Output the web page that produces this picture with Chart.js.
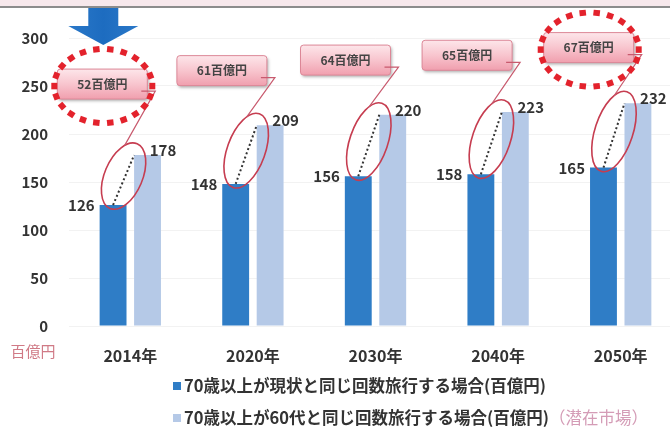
<!DOCTYPE html>
<html lang="ja">
<head>
<meta charset="utf-8">
<title>高齢者の旅行消費額</title>
<script src="https://cdn.jsdelivr.net/npm/chart.js@4.4.1/dist/chart.umd.min.js"></script>
<style>
  html, body { margin: 0; padding: 0; background: #fff; overflow: hidden; }
  #wrap { position: relative; width: 700px; height: 428px; }
  #topband { position: absolute; left: 0; top: 0; width: 700px; height: 6px; background: #f7e8ec; border-bottom: 2px solid #8c8c8c; }
  #chart { position: absolute; left: 0; top: 0; }
  .legend { position: absolute; left: 173px; font: bold 16.5px "Noto Sans CJK JP", sans-serif; color: #333; white-space: nowrap; line-height: 20px; }
  .legend i { display: inline-block; width: 8px; height: 8px; margin-right: 3px; vertical-align: 2px; }
  .legend .note { font-weight: normal; color: #d49cb6; }
</style>
</head>
<body>
<div id="wrap">
  <div id="topband"></div>
  <canvas id="chart" width="700" height="428"></canvas>
  <div class="legend" style="top:375px"><i style="background:#2f7dc6"></i><span id="lg0"></span></div>
  <div class="legend" style="top:407px"><i style="background:#b5c9e7"></i><span id="lg1"></span><span class="note" id="lgNote"></span></div>
</div>
<script>
const years = ['2014年', '2020年', '2030年', '2040年', '2050年'];
const sameAsNow = [126, 148, 156, 158, 165];   // 70歳以上が現状と同じ回数
const sameAs60s = [178, 209, 220, 223, 232];   // 70歳以上が60代と同じ回数
const yTicks = [0, 50, 100, 150, 200, 250, 300];
const unitLabel = '百億円';
const seriesNames = [
  '70歳以上が現状と同じ回数旅行する場合(百億円)',
  '70歳以上が60代と同じ回数旅行する場合(百億円)'
];
const potentialNote = '（潜在市場）';

// callout boxes: centre on the value axis and x shift from the category centre
const boxLevel = [252, 266, 277, 282, 290];
const boxShift = [-28, -31, -30, -31, -32];
const ringed = [0, 4];

const FONT = '"Noto Sans CJK JP", "Noto Sans", sans-serif';
const DARK = '#2f7dc6';
const LIGHT = '#b5c9e7';

document.getElementById('lg0').textContent = seriesNames[0];
document.getElementById('lg1').textContent = seriesNames[1];
document.getElementById('lgNote').textContent = potentialNote;

function roundRect(ctx, x, y, w, h, r) {
  ctx.beginPath();
  ctx.moveTo(x + r, y);
  ctx.arcTo(x + w, y, x + w, y + h, r);
  ctx.arcTo(x + w, y + h, x, y + h, r);
  ctx.arcTo(x, y + h, x, y, r);
  ctx.arcTo(x, y, x + w, y, r);
  ctx.closePath();
}

function dottedRing(ctx, cx, cy, rx, ry, n) {
  ctx.fillStyle = '#e3222c';
  for (let k = 0; k < n; k++) {
    const t = (k / n) * Math.PI * 2;
    const px = cx + rx * Math.cos(t), py = cy + ry * Math.sin(t);
    const tang = Math.atan2(ry * Math.cos(t), -rx * Math.sin(t));
    ctx.save();
    ctx.translate(px, py);
    ctx.rotate(tang);
    ctx.fillRect(-3.25, -3, 6.5, 6);
    ctx.restore();
  }
}

const gapCallouts = {
  id: 'gapCallouts',
  afterDatasetsDraw(chart) {
    const { ctx, scales: { x, y } } = chart;
    const dark = chart.getDatasetMeta(0).data;
    const light = chart.getDatasetMeta(1).data;
    ctx.save();

    // value labels
    ctx.font = `bold 15px ${FONT}`;
    ctx.fillStyle = '#333';
    ctx.textBaseline = 'alphabetic';
    dark.forEach((bar, i) => {
      ctx.textAlign = 'right';
      ctx.fillText(String(sameAsNow[i]), bar.x - bar.width / 2 - 5, bar.y + 6);
    });
    light.forEach((bar, i) => {
      ctx.textAlign = 'center';
      ctx.fillText(String(sameAs60s[i]), bar.x + bar.width / 2 + 2, bar.y + 1);
    });

    dark.forEach((bar, i) => {
      const lb = light[i];
      const x0 = bar.x, y0 = bar.y;
      const x1 = lb.x - lb.width / 2, y1 = lb.y;

      // dotted connector between the two bar tops
      ctx.setLineDash([2, 2.5]);
      ctx.lineWidth = 2;
      ctx.strokeStyle = '#333';
      ctx.beginPath();
      ctx.moveTo(x0, y0);
      ctx.lineTo(x1, y1);
      ctx.stroke();
      ctx.setLineDash([]);

      // ellipse around it
      const len = Math.hypot(x1 - x0, y1 - y0);
      const ang = Math.atan2(y1 - y0, x1 - x0);
      const cx = (x0 + x1) / 2, cy = (y0 + y1) / 2 - 4;
      const a = len / 2 + 8, b = 19;
      ctx.beginPath();
      ctx.ellipse(cx, cy, a, b, ang, 0, Math.PI * 2);
      ctx.strokeStyle = '#c63d50';
      ctx.lineWidth = 1.6;
      ctx.stroke();

      // callout box
      const bw = 90, bh = 30;
      const bcx = x.getPixelForValue(i) + boxShift[i];
      const bcy = y.getPixelForValue(boxLevel[i]);
      const bx = bcx - bw / 2, by = bcy - bh / 2;
      ctx.save();
      ctx.shadowColor = 'rgba(0,0,0,0.3)';
      ctx.shadowBlur = 3;
      ctx.shadowOffsetX = 1.5;
      ctx.shadowOffsetY = 2;
      const g = ctx.createLinearGradient(0, by, 0, by + bh);
      g.addColorStop(0, '#fde6ea');
      g.addColorStop(0.5, '#f8c5ce');
      g.addColorStop(1, '#f09fae');
      roundRect(ctx, bx, by, bw, bh, 3);
      ctx.fillStyle = g;
      ctx.fill();
      ctx.restore();
      roundRect(ctx, bx, by, bw, bh, 3);
      ctx.strokeStyle = '#dc8797';
      ctx.lineWidth = 1;
      ctx.stroke();

      ctx.font = `bold 12px ${FONT}`;
      ctx.fillStyle = '#444';
      ctx.textAlign = 'center';
      ctx.textBaseline = 'middle';
      ctx.fillText(`${sameAs60s[i] - sameAsNow[i]}${unitLabel}`, bcx, bcy);

      // pointer from the box to the ellipse
      const ux = Math.cos(ang), uy = Math.sin(ang);
      const vx = uy, vy = -ux;
      const t = 35 * Math.PI / 180;
      const ex = cx + a * Math.cos(t) * ux + b * Math.sin(t) * vx;
      const ey = cy + a * Math.cos(t) * uy + b * Math.sin(t) * vy;
      const ty = bcy + 7;
      ctx.beginPath();
      ctx.moveTo(bx + bw - 6, ty);
      ctx.lineTo(bx + bw + 8, ty);
      ctx.lineTo(ex, ey);
      ctx.strokeStyle = '#c85a6e';
      ctx.lineWidth = 1.2;
      ctx.stroke();

      if (ringed.includes(i)) dottedRing(ctx, bcx + 1, bcy + 2, 49, 37, 22);
    });

    // down arrow over the first callout
    const ax = x.getPixelForValue(0) + boxShift[0] + 1;
    const ag = ctx.createLinearGradient(ax - 35, 0, ax + 35, 0);
    ag.addColorStop(0, '#2a78c8');
    ag.addColorStop(0.5, '#1d6cc0');
    ag.addColorStop(1, '#2a78c8');
    ctx.beginPath();
    ctx.moveTo(ax - 15, 8);
    ctx.lineTo(ax + 15, 8);
    ctx.lineTo(ax + 15, 26);
    ctx.lineTo(ax + 35, 26);
    ctx.lineTo(ax, 45);
    ctx.lineTo(ax - 35, 26);
    ctx.lineTo(ax - 15, 26);
    ctx.closePath();
    ctx.fillStyle = ag;
    ctx.fill();

    // unit under the value axis
    ctx.font = `15px ${FONT}`;
    ctx.fillStyle = '#d07a86';
    ctx.textAlign = 'center';
    ctx.textBaseline = 'middle';
    ctx.fillText(unitLabel, 33, 351);

    ctx.restore();
  }
};

new Chart(document.getElementById('chart'), {
  type: 'bar',
  data: {
    labels: years,
    datasets: [
      { label: seriesNames[0], data: sameAsNow, backgroundColor: DARK },
      { label: seriesNames[1], data: sameAs60s, backgroundColor: LIGHT }
    ]
  },
  options: {
    responsive: false,
    animation: false,
    categoryPercentage: 0.562,
    barPercentage: 0.78,
    layout: { padding: { top: 38, right: 18, bottom: 62, left: 0 } },
    plugins: { legend: { display: false }, tooltip: { enabled: false } },
    scales: {
      x: {
        grid: { display: false },
        border: { display: false },
        ticks: { color: '#333', font: { family: FONT, size: 16, weight: 'bold' }, padding: 12 },
        afterFit(scale) { scale.height = 40; }
      },
      y: {
        min: 0,
        max: 300,
        afterBuildTicks(scale) { scale.ticks = yTicks.map(v => ({ value: v })); },
        grid: { color: 'rgba(0,0,0,0.05)', drawTicks: false },
        border: { display: false },
        ticks: { color: '#333', font: { family: FONT, size: 15, weight: 'bold' }, padding: 21 },
        afterFit(scale) { scale.width = 69; }
      }
    }
  },
  plugins: [gapCallouts]
});
</script>
</body>
</html>
